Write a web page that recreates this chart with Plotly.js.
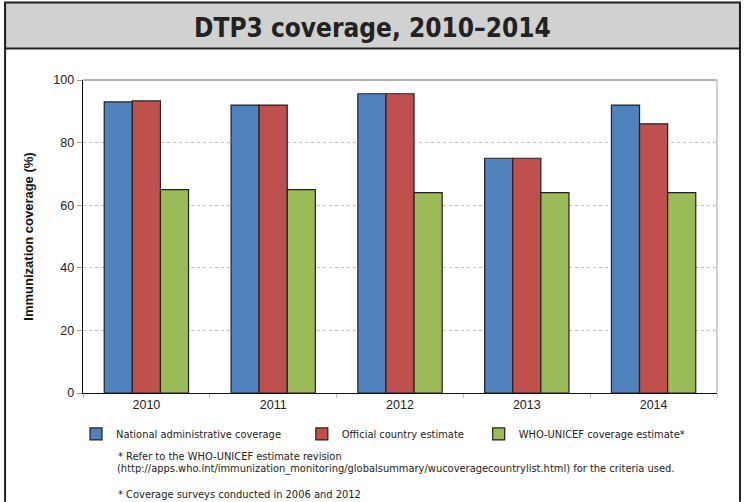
<!DOCTYPE html>
<html>
<head>
<meta charset="utf-8">
<script src="https://cdn.plot.ly/plotly-3.0.1.min.js"></script>
<style>html,body{margin:0;padding:0;background:#fff;}#chart{width:747px;height:502px;}</style>
</head>
<body>
<div id="chart"></div>
<script>
const years = ['2010', '2011', '2012', '2013', '2014'];
const nationalAdmin = [93, 92, 95.6, 75, 92];
const officialEstimate = [93.3, 92, 95.6, 75, 86];
const whoUnicef = [65, 65, 64, 64, 64];
const seriesNames = ['National administrative coverage', 'Official country estimate', 'WHO-UNICEF coverage estimate*'];
const yTicks = [0, 20, 40, 60, 80, 100];
const titleText = 'DTP3 coverage, 2010–2014';
const yTitle = 'Immunization coverage (%)';
const footnoteLines = [
  '* Refer to the WHO-UNICEF estimate revision',
  '(http://apps.who.int/immunization_monitoring/globalsummary/wucoveragecountrylist.html) for the criteria used.',
  '* Coverage surveys conducted in 2006 and 2012'
];

const colors = ['#4F81BD', '#C0504D', '#9BBB59'];
const narrow = '"DejaVu Sans Condensed", "Liberation Sans Narrow", "Liberation Sans", Arial, sans-serif';
const sans = '"Liberation Sans", Arial, sans-serif';
const legendIds = ['legend', 'legend2', 'legend3'];

const traces = [nationalAdmin, officialEstimate, whoUnicef].map((vals, i) => ({
  type: 'bar',
  x: years,
  y: vals,
  name: seriesNames[i],
  legend: legendIds[i],
  marker: {color: colors[i], line: {color: '#222', width: 1.2}},
  hoverinfo: 'x+y+name'
}));

const W = 634.5, H = 313.5, L = 83, B = 109;
const px = x => (x - L) / W;
const py = y => (502 - B - y) / H;

const legendX = [76, 302, 479];
const mkLegend = x => ({
  orientation: 'h', x: px(x), xanchor: 'left', y: py(434), yanchor: 'middle',
  font: {family: narrow, size: 11, color: '#222'},
  itemwidth: 30, bgcolor: 'rgba(0,0,0,0)'
});

const layout = {
  width: 747, height: 502,
  margin: {l: L, r: 747 - L - W, t: 502 - B - H, b: B},
  paper_bgcolor: '#fff', plot_bgcolor: '#fff',
  barmode: 'group', bargap: 0.335, bargroupgap: 0,
  font: {family: sans, size: 12, color: '#222'},
  showlegend: true,
  legend: mkLegend(legendX[0]),
  legend2: mkLegend(legendX[1]),
  legend3: mkLegend(legendX[2]),
  xaxis: {
    type: 'category',
    showline: true, linecolor: '#111', linewidth: 1.3,
    ticks: 'outside', tickson: 'boundaries', ticklen: 4, tickcolor: '#bbb',
    tickfont: {family: sans, size: 12.5, color: '#222'},
    showgrid: false, mirror: false
  },
  yaxis: {
    range: [0, 100], tickvals: yTicks, ticktext: yTicks.map(String),
    showline: true, linecolor: '#111', linewidth: 1.3,
    ticks: 'outside', ticklen: 5, tickcolor: '#999',
    tickfont: {family: sans, size: 12.5, color: '#222'},
    showgrid: true, gridcolor: '#b0b0b0', gridwidth: 0.8, griddash: 'dot',
    zeroline: false,
    title: {text: yTitle, font: {family: sans, size: 13, color: '#111', weight: 'bold'}, standoff: 16}
  },
  shapes: [
    {type: 'line', xref: 'paper', yref: 'paper', x0: 0, x1: 1, y0: 1, y1: 1, line: {color: '#999', width: 1.3}},
    {type: 'line', xref: 'paper', yref: 'paper', x0: 1, x1: 1, y0: 0, y1: 1, line: {color: '#bbb', width: 1.3}},
    {type: 'rect', xref: 'paper', yref: 'paper',
     x0: px(5), x1: px(740.5), y0: py(48), y1: py(2),
     fillcolor: '#D1D1D1', line: {color: '#222', width: 2}, layer: 'below'},
    {type: 'line', xref: 'paper', yref: 'paper', x0: px(5), x1: px(5), y0: py(502), y1: py(2), line: {color: '#222', width: 2}},
    {type: 'line', xref: 'paper', yref: 'paper', x0: px(740.5), x1: px(740.5), y0: py(502), y1: py(2), line: {color: '#222', width: 2}}
  ],
  annotations: [
    {text: '<b>' + titleText + '</b>', xref: 'paper', yref: 'paper', x: px(373), y: py(27),
     xanchor: 'center', yanchor: 'middle', showarrow: false,
     font: {family: narrow, size: 26, color: '#222'}}
  ].concat([[116, 456.5], [115, 468.3], [116, 495]].map((p, i) => ({
    text: footnoteLines[i], xref: 'paper', yref: 'paper', x: px(p[0]), y: py(p[1]),
    xanchor: 'left', yanchor: 'middle', align: 'left', showarrow: false,
    font: {family: narrow, size: 11, color: '#222'}
  })))
};

Plotly.newPlot('chart', traces, layout, {displayModeBar: false, staticPlot: true});
</script>
</body>
</html>
